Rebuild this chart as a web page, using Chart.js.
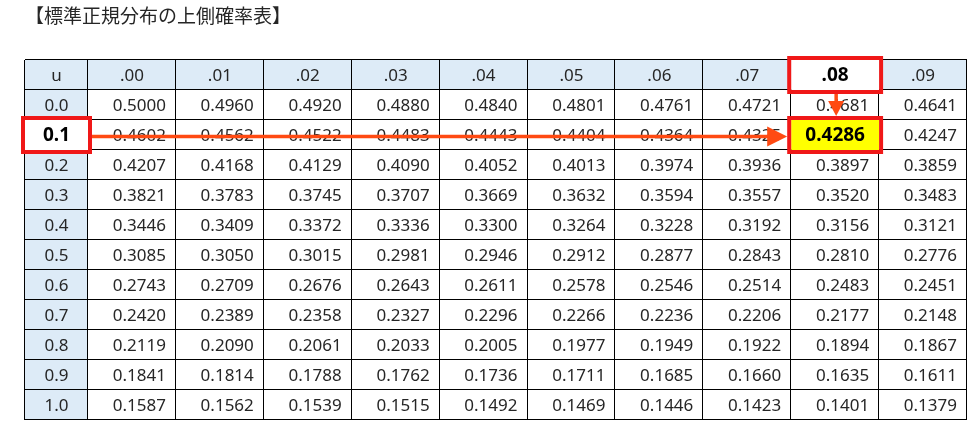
<!DOCTYPE html>
<html lang="ja">
<head>
<meta charset="utf-8">
<title>標準正規分布の上側確率表</title>
<script src="https://cdn.jsdelivr.net/npm/chart.js"></script>
<style>
  html, body { margin: 0; padding: 0; background: #fff; }
  #wrap { width: 968px; height: 421px; }
</style>
</head>
<body>
<div id="wrap"><canvas id="tableChart" width="968" height="421"></canvas></div>
<script>
const titleText = '【標準正規分布の上側確率表】';
const cornerLabel = 'u';
const colLabels = ['.00', '.01', '.02', '.03', '.04', '.05', '.06', '.07', '.08', '.09'];
const rowLabels = ['0.0', '0.1', '0.2', '0.3', '0.4', '0.5', '0.6', '0.7', '0.8', '0.9', '1.0'];

const u00 = [0.5000, 0.4960, 0.4920, 0.4880, 0.4840, 0.4801, 0.4761, 0.4721, 0.4681, 0.4641];
const u01 = [0.4602, 0.4562, 0.4522, 0.4483, 0.4443, 0.4404, 0.4364, 0.4325, 0.4286, 0.4247];
const u02 = [0.4207, 0.4168, 0.4129, 0.4090, 0.4052, 0.4013, 0.3974, 0.3936, 0.3897, 0.3859];
const u03 = [0.3821, 0.3783, 0.3745, 0.3707, 0.3669, 0.3632, 0.3594, 0.3557, 0.3520, 0.3483];
const u04 = [0.3446, 0.3409, 0.3372, 0.3336, 0.3300, 0.3264, 0.3228, 0.3192, 0.3156, 0.3121];
const u05 = [0.3085, 0.3050, 0.3015, 0.2981, 0.2946, 0.2912, 0.2877, 0.2843, 0.2810, 0.2776];
const u06 = [0.2743, 0.2709, 0.2676, 0.2643, 0.2611, 0.2578, 0.2546, 0.2514, 0.2483, 0.2451];
const u07 = [0.2420, 0.2389, 0.2358, 0.2327, 0.2296, 0.2266, 0.2236, 0.2206, 0.2177, 0.2148];
const u08 = [0.2119, 0.2090, 0.2061, 0.2033, 0.2005, 0.1977, 0.1949, 0.1922, 0.1894, 0.1867];
const u09 = [0.1841, 0.1814, 0.1788, 0.1762, 0.1736, 0.1711, 0.1685, 0.1660, 0.1635, 0.1611];
const u10 = [0.1587, 0.1562, 0.1539, 0.1515, 0.1492, 0.1469, 0.1446, 0.1423, 0.1401, 0.1379];
const probRows = [u00, u01, u02, u03, u04, u05, u06, u07, u08, u09, u10];

// the cell that is looked up in the table
const pickRow = '0.1';
const pickCol = '.08';

const cells = [];
probRows.forEach((vals, r) => {
    vals.forEach((v, c) => {
        cells.push({ x: colLabels[c], y: rowLabels[r], v: v });
    });
});

const txtColor = '#262626';
const numFont = '17px "Noto Sans", "Noto Sans CJK JP", sans-serif';
const boldFont = 'bold 19px "Noto Sans", "Noto Sans CJK JP", sans-serif';
const headBg = '#DDEBF7';
const boxRed = '#F01818';
const arrowRed = '#FF4A12';

function drawArrow(ctx, x1, y1, x2, y2, head, half) {
    const ang = Math.atan2(y2 - y1, x2 - x1);
    const bx = x2 - head * Math.cos(ang);
    const by = y2 - head * Math.sin(ang);
    ctx.beginPath();
    ctx.moveTo(x1, y1);
    ctx.lineTo(bx + Math.cos(ang), by + Math.sin(ang));
    ctx.stroke();
    ctx.beginPath();
    ctx.moveTo(x2, y2);
    ctx.lineTo(bx + half * Math.sin(ang), by - half * Math.cos(ang));
    ctx.lineTo(bx - half * Math.sin(ang), by + half * Math.cos(ang));
    ctx.closePath();
    ctx.fill();
}

const tablePlugin = {
    id: 'tablePlugin',
    beforeDraw(chart) {
        const ctx = chart.ctx;
        const xs = chart.scales.x, ys = chart.scales.y, area = chart.chartArea;
        ctx.save();
        ctx.fillStyle = '#fff';
        ctx.fillRect(0, 0, chart.width, chart.height);
        ctx.fillStyle = headBg;
        ctx.fillRect(ys.left, xs.top, area.right - ys.left, xs.bottom - xs.top);
        ctx.fillRect(ys.left, area.top, ys.right - ys.left, area.bottom - area.top);
        ctx.restore();
    },
    afterDatasetsDraw(chart) {
        const ctx = chart.ctx;
        const xs = chart.scales.x, ys = chart.scales.y, area = chart.chartArea;
        const cw = xs.width / colLabels.length;
        const ch = ys.height / rowLabels.length;
        const meta = chart.getDatasetMeta(0);
        ctx.save();

        // header texts
        ctx.fillStyle = txtColor;
        ctx.font = numFont;
        ctx.textAlign = 'center';
        ctx.textBaseline = 'middle';
        const headY = (xs.top + xs.bottom) / 2 + 1;
        const uX = (ys.left + ys.right) / 2;
        ctx.fillText(cornerLabel, uX, headY);
        colLabels.forEach((lab, i) => {
            ctx.fillText(lab, xs.getPixelForValue(i), headY);
        });
        rowLabels.forEach((lab, i) => {
            ctx.fillText(lab, uX, ys.getPixelForValue(i) + 1);
        });

        // values
        ctx.textAlign = 'right';
        meta.data.forEach((pt, k) => {
            ctx.fillText(cells[k].v.toFixed(4), pt.x + cw / 2 - 10, pt.y + 1);
        });

        // grid
        ctx.strokeStyle = '#000';
        ctx.lineWidth = 1;
        ctx.beginPath();
        const hl = [xs.top];
        for (let i = 0; i <= rowLabels.length; i++) hl.push(area.top + i * ch);
        hl.forEach(y => {
            const yy = Math.round(y) - 0.5;
            ctx.moveTo(ys.left, yy);
            ctx.lineTo(area.right, yy);
        });
        const vl = [ys.left];
        for (let i = 0; i <= colLabels.length; i++) vl.push(area.left + i * cw);
        vl.forEach(x => {
            const xx = Math.round(x) - 0.5;
            ctx.moveTo(xx, xs.top);
            ctx.lineTo(xx, area.bottom);
        });
        ctx.stroke();

        // highlighted cells
        const ci = colLabels.indexOf(pickCol);
        const ri = rowLabels.indexOf(pickRow);
        const cx = xs.getPixelForValue(ci);
        const ry = ys.getPixelForValue(ri);
        const colBox = { l: cx - cw / 2, t: xs.top, r: cx + cw / 2, b: xs.bottom };
        const rowBox = { l: ys.left, t: ry - ch / 2, r: ys.right, b: ry + ch / 2 };
        const hitBox = { l: cx - cw / 2, t: ry - ch / 2, r: cx + cw / 2, b: ry + ch / 2 };
        const hitVal = probRows[ri][ci].toFixed(4);

        ctx.fillStyle = '#fff';
        ctx.fillRect(colBox.l, colBox.t, colBox.r - colBox.l, colBox.b - colBox.t);
        ctx.fillRect(rowBox.l, rowBox.t, rowBox.r - rowBox.l, rowBox.b - rowBox.t);
        ctx.fillStyle = '#FFFF00';
        ctx.fillRect(hitBox.l, hitBox.t, hitBox.r - hitBox.l, hitBox.b - hitBox.t);

        ctx.fillStyle = '#000';
        ctx.font = boldFont;
        ctx.textAlign = 'center';
        ctx.fillText(pickCol, cx, headY);
        ctx.fillText(pickRow, uX, ry + 1);
        ctx.fillText(hitVal, cx, ry + 1);

        ctx.strokeStyle = boxRed;
        ctx.lineWidth = 4;
        [colBox, rowBox, hitBox].forEach(b => {
            ctx.strokeRect(b.l - 2, b.t - 2, b.r - b.l + 4, b.b - b.t + 4);
        });

        // arrows
        ctx.strokeStyle = arrowRed;
        ctx.fillStyle = arrowRed;
        ctx.lineWidth = 3.5;
        drawArrow(ctx, rowBox.r + 4, ry + 1.5, hitBox.l - 4, ry + 1.5, 20, 10);
        drawArrow(ctx, cx + 1, colBox.b + 4, cx + 1, hitBox.t - 4, 15, 8);

        ctx.restore();
    }
};

new Chart(document.getElementById('tableChart'), {
    type: 'scatter',
    data: {
        datasets: [{
            label: '上側確率',
            data: cells,
            pointRadius: 0,
            pointHoverRadius: 0
        }]
    },
    options: {
        responsive: false,
        animation: false,
        events: [],
        layout: { padding: { left: 25, right: 1, top: 0, bottom: 1 } },
        plugins: {
            legend: { display: false },
            tooltip: { enabled: false },
            title: {
                display: true,
                text: titleText,
                align: 'start',
                color: txtColor,
                font: { family: '"Noto Sans CJK JP", sans-serif', size: 19, weight: 'normal', lineHeight: 1.2 },
                padding: { top: 4, bottom: 33.2 }
            }
        },
        scales: {
            x: {
                type: 'category',
                labels: colLabels,
                position: 'top',
                offset: true,
                grid: { display: false },
                border: { display: false },
                ticks: { display: false },
                afterFit(s) { s.height = 30; }
            },
            y: {
                type: 'category',
                labels: rowLabels,
                offset: true,
                grid: { display: false },
                border: { display: false },
                ticks: { display: false },
                afterFit(s) { s.width = 63; }
            }
        }
    },
    plugins: [tablePlugin]
});
</script>
</body>
</html>
